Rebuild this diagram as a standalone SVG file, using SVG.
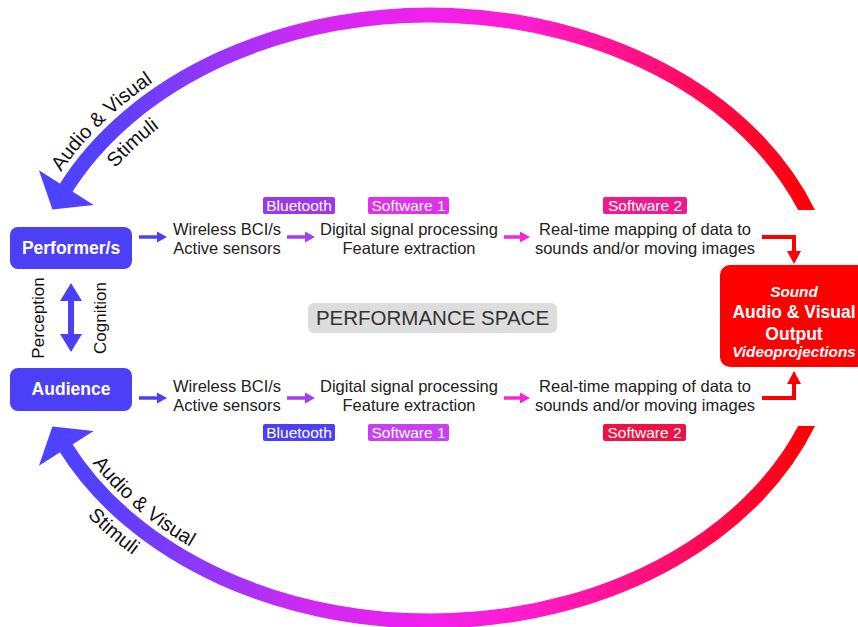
<svg xmlns="http://www.w3.org/2000/svg" width="858" height="627" viewBox="0 0 858 627">
<defs>
<linearGradient id="arcGrad" gradientUnits="userSpaceOnUse" x1="40" y1="0" x2="815" y2="0">
<stop offset="0" stop-color="#4a44ff"/>
<stop offset="0.08" stop-color="#5540fd"/>
<stop offset="0.2" stop-color="#8c38f8"/>
<stop offset="0.34" stop-color="#cc2af2"/>
<stop offset="0.5" stop-color="#f020ee"/>
<stop offset="0.63" stop-color="#ff1ccc"/>
<stop offset="0.78" stop-color="#ff1080"/>
<stop offset="0.9" stop-color="#ff0638"/>
<stop offset="1" stop-color="#ff0000"/>
</linearGradient>
<clipPath id="clipTop"><rect x="0" y="0" width="858" height="210"/></clipPath>
<clipPath id="clipBot"><rect x="0" y="426" width="858" height="201"/></clipPath>
<path id="tpTopAV" d="M61,172.1 A416,316 0 0 1 357.8,6.8"/>
<path id="tpTopSt" d="M115.5,168.2 A375,275 0 0 1 364.9,47.2"/>
<path id="tpBotAV" d="M92.3,463 A390,290 0 0 0 430,608"/>
<path id="tpBotSt" d="M87.4,516 A429,329 0 0 0 430,647"/>
</defs>
<style>
text { font-family: "Liberation Sans", Arial, sans-serif; }
.body { font-size: 16.5px; fill: #222; text-anchor: middle; }
.tag { font-size: 15.5px; fill: #fff; text-anchor: middle; }
.node { font-size: 17.5px; font-weight: bold; fill: #fff; text-anchor: middle; }
.side { font-size: 17px; fill: #111; text-anchor: middle; }
.arcText { font-size: 20px; fill: #111; }
.out { font-weight: bold; fill: #fff; text-anchor: middle; }
</style>
<rect width="858" height="627" fill="#ffffff"/>

<g id="connectors">
  <path d="M64.8,189.9 A403,303 0 0 1 811.4,220" fill="none" stroke="url(#arcGrad)" stroke-width="15" clip-path="url(#clipTop)"/>
  <polygon points="38.9,170.2 93.7,205 52.4,209.5" fill="url(#arcGrad)"/>
  <path d="M811.4,416 A403,303 0 0 1 64.8,446.1" fill="none" stroke="url(#arcGrad)" stroke-width="15" clip-path="url(#clipBot)"/>
  <polygon points="38.9,465.8 93.7,431 52.4,426.5" fill="url(#arcGrad)"/>
  <text class="arcText"><textPath href="#tpTopAV">Audio &amp; Visual</textPath></text>
  <text class="arcText"><textPath href="#tpTopSt">Stimuli</textPath></text>
  <text class="arcText"><textPath href="#tpBotAV">Audio &amp; Visual</textPath></text>
  <text class="arcText"><textPath href="#tpBotSt">Stimuli</textPath></text>

  <g fill="#4b40f5" stroke="#4b40f5">
    <line x1="71" y1="295" x2="71" y2="340" stroke-width="6"/>
    <polygon points="60,301 82,301 71,283" stroke="none"/>
    <polygon points="60,334 82,334 71,352" stroke="none"/>
  </g>

  <g stroke-width="3.5">
    <line x1="139" y1="237" x2="158" y2="237" stroke="#4b40f5"/>
    <polygon points="157,231.5 167,237 157,242.5" fill="#4b40f5"/>
    <line x1="287" y1="237" x2="306" y2="237" stroke="#a43cf0"/>
    <polygon points="305,231.5 315,237 305,242.5" fill="#a43cf0"/>
    <line x1="504" y1="237" x2="521" y2="237" stroke="#f527d0"/>
    <polygon points="520,231.5 530,237 520,242.5" fill="#f527d0"/>

    <line x1="139" y1="398" x2="158" y2="398" stroke="#4b40f5"/>
    <polygon points="157,392.5 167,398 157,403.5" fill="#4b40f5"/>
    <line x1="287" y1="398" x2="306" y2="398" stroke="#a43cf0"/>
    <polygon points="305,392.5 315,398 305,403.5" fill="#a43cf0"/>
    <line x1="504" y1="398" x2="521" y2="398" stroke="#f527d0"/>
    <polygon points="520,392.5 530,398 520,403.5" fill="#f527d0"/>
  </g>

  <polyline points="762,237 794,237 794,253" fill="none" stroke="#ff0000" stroke-width="4"/>
  <polygon points="787,251 801,251 794,264" fill="#ff0000"/>
  <polyline points="762,398 794,398 794,382" fill="none" stroke="#ff0000" stroke-width="4"/>
  <polygon points="787,384 801,384 794,371" fill="#ff0000"/>
</g>

<g id="performer">
  <rect x="10" y="227" width="122" height="42" rx="8" fill="#4b40f5"/>
  <text class="node" x="71" y="254">Performer/s</text>
</g>
<g id="audience">
  <rect x="10" y="368" width="122" height="43" rx="8" fill="#4b40f5"/>
  <text class="node" x="71" y="395">Audience</text>
</g>
<g id="perception-cognition">
  <text class="side" transform="translate(44,318) rotate(-90)">Perception</text>
  <text class="side" transform="translate(106,318) rotate(-90)">Cognition</text>
</g>

<g id="sensors-top">
  <text class="body" x="227" y="235">Wireless BCI/s</text>
  <text class="body" x="227" y="254">Active sensors</text>
</g>
<g id="dsp-top">
  <text class="body" x="409" y="235">Digital signal processing</text>
  <text class="body" x="409" y="254">Feature extraction</text>
</g>
<g id="mapping-top">
  <text class="body" x="645" y="235">Real-time mapping of data to</text>
  <text class="body" x="645" y="254">sounds and/or moving images</text>
</g>
<g id="sensors-bottom">
  <text class="body" x="227" y="392">Wireless BCI/s</text>
  <text class="body" x="227" y="411">Active sensors</text>
</g>
<g id="dsp-bottom">
  <text class="body" x="409" y="392">Digital signal processing</text>
  <text class="body" x="409" y="411">Feature extraction</text>
</g>
<g id="mapping-bottom">
  <text class="body" x="645" y="392">Real-time mapping of data to</text>
  <text class="body" x="645" y="411">sounds and/or moving images</text>
</g>

<g id="tags-top">
  <rect x="263" y="197" width="72" height="17" rx="2" fill="#9b37ef"/>
  <text class="tag" x="299" y="211">Bluetooth</text>
  <rect x="368" y="197" width="81" height="17" rx="2" fill="#e030e8"/>
  <text class="tag" x="408.5" y="211">Software 1</text>
  <rect x="603" y="197" width="84" height="17" rx="2" fill="#ee1b8f"/>
  <text class="tag" x="645" y="211">Software 2</text>
</g>
<g id="tags-bottom">
  <rect x="263" y="424" width="72" height="17" rx="2" fill="#4b40f5"/>
  <text class="tag" x="299" y="438">Bluetooth</text>
  <rect x="368" y="424" width="81" height="17" rx="2" fill="#c940f0"/>
  <text class="tag" x="408.5" y="438">Software 1</text>
  <rect x="603" y="424" width="83" height="17" rx="2" fill="#ee1144"/>
  <text class="tag" x="644.5" y="438">Software 2</text>
</g>

<g id="performance-space">
  <rect x="308" y="303" width="249" height="30" rx="6" fill="#dddddd"/>
  <text x="432.5" y="325" font-size="20.5" fill="#333" text-anchor="middle">PERFORMANCE SPACE</text>
</g>

<g id="output">
  <rect x="720" y="265" width="150" height="102" rx="10" fill="#ff0000"/>
  <text class="out" x="794" y="297" font-size="15.3" font-style="italic">Sound</text>
  <text class="out" x="794" y="318" font-size="17.5">Audio &amp; Visual</text>
  <text class="out" x="794" y="340" font-size="17.5">Output</text>
  <text class="out" x="794" y="357" font-size="15.3" font-style="italic">Videoprojections</text>
</g>
</svg>
